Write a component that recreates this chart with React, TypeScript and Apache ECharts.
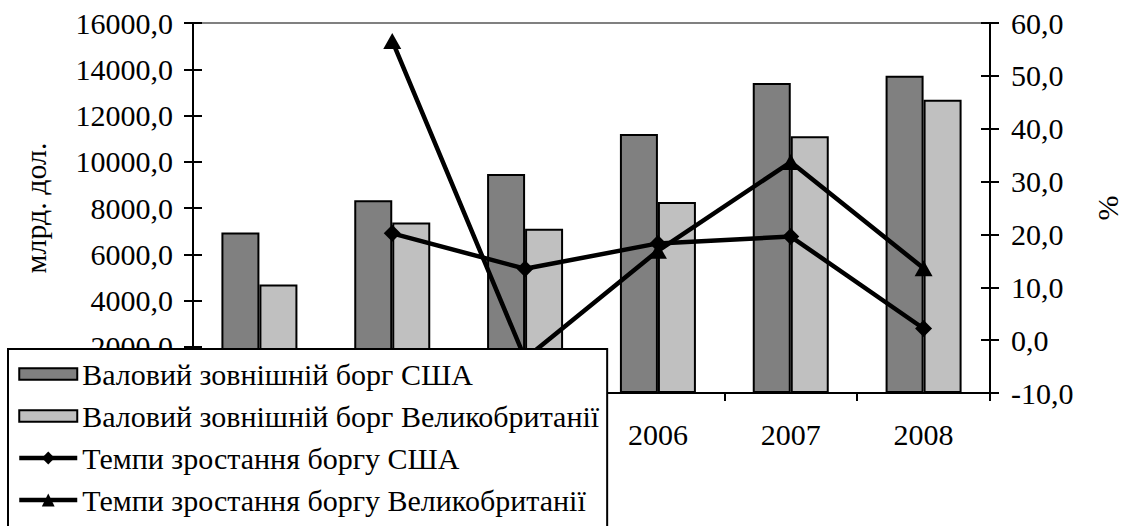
import React, { useEffect, useRef } from "react";
import * as echarts from "echarts";

const years = ["2003", "2004", "2005", "2006", "2007", "2008"];
const usDebt = [6945, 8330, 9470, 11200, 13405, 13720];
const ukDebt = [4695, 7375, 7105, 8260, 11100, 12680];
const usGrowth = [null, 20.2, 13.5, 18.3, 19.6, 2.2];
const ukGrowth = [null, 56.6, -3.5, 16.9, 33.7, 13.6];

const leftTicks = { min: 0, max: 16000, interval: 2000 };
const rightTicks = { min: -10, max: 60, interval: 10 };

const FONT = "'Liberation Serif', 'Times New Roman', serif";
const FS = 30;
const fmt = (v: number) => v.toFixed(1).replace(".", ",");
const barIcon = "path://M0,0H56V11H0Z";

export default function App() {
  const ref = useRef<HTMLDivElement>(null);
  useEffect(() => {
    if (!ref.current) return;
    document.body.style.margin = "0";
    const chart = echarts.init(ref.current, null, { renderer: "svg", width: 1130, height: 526 });
    const tickStyle = { color: "#000", width: 2 };
    const baseY = (side: "left" | "right", r: any, extra: any) => ({
      type: "value",
      position: side,
      min: r.min,
      max: r.max,
      interval: r.interval,
      splitLine: { show: false },
      axisLine: { show: true, onZero: false, lineStyle: { color: "#000", width: 2 } },
      axisTick: { show: true, length: 9, lineStyle: tickStyle },
      ...extra,
    });
    chart.setOption({
      animation: false,
      backgroundColor: "#fff",
      textStyle: { fontFamily: FONT },
      grid: { left: 193, right: 128, top: 23, bottom: 133, containLabel: false },
      xAxis: [
        {
          type: "category",
          data: years,
          boundaryGap: true,
          axisLine: { onZero: false, lineStyle: { color: "#000", width: 2 } },
          axisTick: { show: true, length: 8, inside: false, lineStyle: tickStyle },
          axisLabel: { color: "#000", fontSize: FS, fontFamily: FONT, margin: 26 },
          splitLine: { show: false },
        },
        {
          type: "category",
          data: years,
          position: "top",
          axisLine: { show: true, onZero: false, lineStyle: { color: "#808080", width: 2 } },
          axisTick: { show: false },
          axisLabel: { show: false },
          splitLine: { show: false },
        },
      ],
      yAxis: [
        baseY("left", leftTicks, {
          name: "млрд. дол.",
          nameLocation: "middle",
          nameGap: 143,
          nameRotate: 90,
          nameTextStyle: { color: "#000", fontSize: FS, fontFamily: FONT },
          axisLabel: { color: "#000", fontSize: FS, fontFamily: FONT, margin: 20, formatter: fmt },
        }),
        baseY("right", rightTicks, {
          name: "%",
          nameLocation: "middle",
          nameGap: 102,
          nameRotate: 90,
          nameTextStyle: { color: "#000", fontSize: FS, fontFamily: FONT },
          axisLabel: { color: "#000", fontSize: FS, fontFamily: FONT, margin: 21, formatter: fmt },
        }),
        baseY("left", leftTicks, {
          axisLine: { show: false },
          axisTick: { show: true, inside: true, length: 9, lineStyle: tickStyle },
          axisLabel: { show: false },
        }),
        baseY("right", rightTicks, {
          axisLine: { show: false },
          axisTick: { show: true, inside: true, length: 9, lineStyle: tickStyle },
          axisLabel: { show: false },
        }),
      ],
      legend: {
        orient: "vertical",
        left: 8,
        top: 349,
        height: 400,
        z: 20,
        backgroundColor: "#fff",
        borderColor: "#000",
        borderWidth: 2,
        borderRadius: 0,
        padding: [9, 8, 20, 9],
        itemWidth: 58,
        itemHeight: 16,
        itemGap: 10,
        lineStyle: { width: 4.5, color: "#000" },
        textStyle: { color: "#000", fontSize: FS, fontFamily: FONT, lineHeight: 32 },
        data: [
          { name: "Валовий зовнішній борг США", icon: barIcon },
          { name: "Валовий зовнішній борг Великобританії", icon: barIcon },
          { name: "Темпи зростання боргу США" },
          { name: "Темпи зростання боргу Великобританії" },
        ],
      },
      series: [
        {
          name: "Валовий зовнішній борг США",
          type: "bar",
          data: usDebt,
          barWidth: 38,
          barGap: "0%",
          itemStyle: { color: "#808080", borderColor: "#000", borderWidth: 2 },
        },
        {
          name: "Валовий зовнішній борг Великобританії",
          type: "bar",
          data: ukDebt,
          barWidth: 38,
          barGap: "0%",
          itemStyle: { color: "#c0c0c0", borderColor: "#000", borderWidth: 2 },
        },
        {
          name: "Темпи зростання боргу США",
          type: "line",
          yAxisIndex: 1,
          data: usGrowth,
          symbol: "diamond",
          symbolSize: 17,
          lineStyle: { color: "#000", width: 4.5 },
          itemStyle: { color: "#000" },
          z: 3,
        },
        {
          name: "Темпи зростання боргу Великобританії",
          type: "line",
          yAxisIndex: 1,
          data: ukGrowth,
          symbol: "triangle",
          symbolSize: [18, 16],
          lineStyle: { color: "#000", width: 4.5 },
          itemStyle: { color: "#000" },
          z: 3,
        },
      ],
    });
    return () => chart.dispose();
  }, []);
  return (
    <div
      ref={ref}
      style={{ position: "fixed", left: 0, top: 0, width: 1130, height: 526, background: "#fff" }}
    />
  );
}
